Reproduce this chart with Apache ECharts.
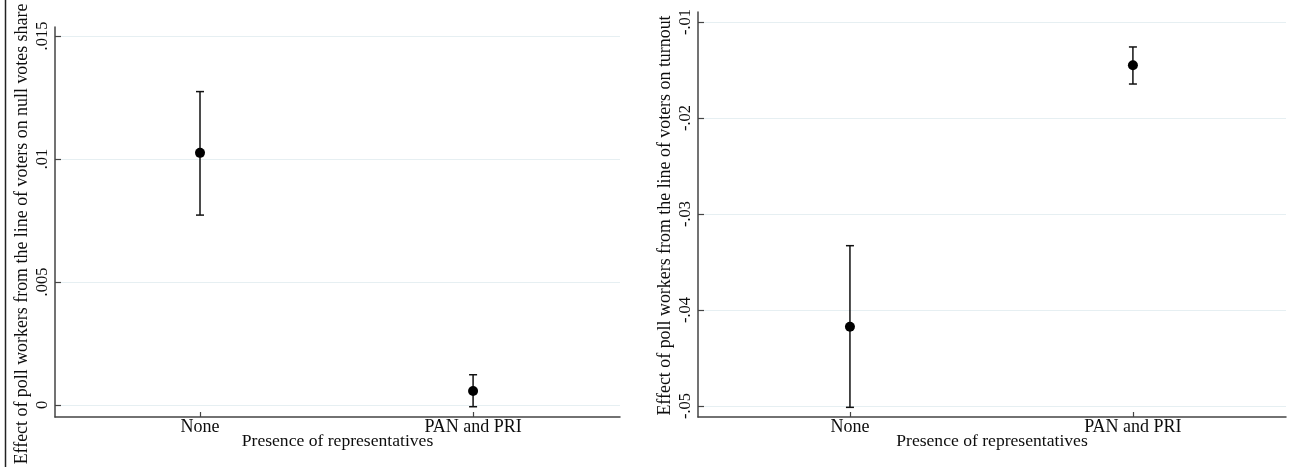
<!DOCTYPE html>
<html>
<head>
<meta charset="utf-8">
<script src="https://cdn.jsdelivr.net/npm/echarts@6/dist/echarts.min.js"></script>
<style>html,body{margin:0;padding:0;background:#fff}#c{width:1291px;height:467px}</style>
</head>
<body>
<div id="c"></div>
<script>
const categories = ["None", "PAN and PRI"];
// Left panel: null votes share
const nullEst = [0.01025, 0.00057];
const nullLo  = [0.00772, -0.00007];
const nullHi  = [0.01274, 0.00123];
const nullTicks = [0, 0.005, 0.01, 0.015];
// Right panel: turnout
const turnEst = [-0.04174, -0.01451];
const turnLo  = [-0.05014, -0.01646];
const turnHi  = [-0.03330, -0.01260];
const turnTicks = [-0.05, -0.04, -0.03, -0.02, -0.01];

const FONT = "'Liberation Serif', 'Times New Roman', serif";
const TXT = '#0d0d0d';
const AXC = '#444444';
const GRIDC = '#e6eff2';
const catX = categories.map((c, i) => i + 1);

function fmt(v) { return String(v).replace(/^(-?)0\./, '$1.'); }

function yAxisCfg(gi, min, max, ticks, name, pad) {
  return {
    type: 'value', gridIndex: gi, min: min, max: max,
    name: name, nameLocation: 'middle', nameGap: 24, nameRotate: 90, nameMoveOverlap: false,
    nameTextStyle: { fontFamily: FONT, fontSize: 17.9, color: TXT, padding: pad },
    axisLine: { show: true, lineStyle: { color: AXC, width: 1.5 } },
    axisTick: { show: true, inside: true, length: 6, customValues: ticks, lineStyle: { color: AXC, width: 1.2 } },
    axisLabel: { show: true, rotate: 90, margin: 4, customValues: ticks, formatter: fmt,
      fontFamily: FONT, fontSize: 16.5, color: TXT },
    splitLine: { show: true, lineStyle: { color: GRIDC, width: 1.2 } }
  };
}
function xAxisCfg(gi, min, max) {
  return {
    type: 'value', gridIndex: gi, min: min, max: max,
    name: 'Presence of representatives', nameLocation: 'middle', nameGap: 15, nameMoveOverlap: false,
    nameTextStyle: { fontFamily: FONT, fontSize: 17.6, color: TXT, verticalAlign: 'top' },
    axisLine: { show: true, onZero: false, lineStyle: { color: AXC, width: 1.5 } },
    axisTick: { show: true, inside: true, length: 5, customValues: catX, lineStyle: { color: AXC, width: 1.2 } },
    axisLabel: { show: true, margin: 1, customValues: catX, formatter: v => categories[Math.round(v) - 1],
      fontFamily: FONT, fontSize: 18, color: TXT },
    splitLine: { show: false }
  };
}
function errSeries(gi, lo, hi) {
  return {
    type: 'custom', xAxisIndex: gi, yAxisIndex: gi,
    data: catX.map((x, i) => [x, lo[i], hi[i]]),
    renderItem: function (params, api) {
      const x = api.value(0);
      const p1 = api.coord([x, api.value(2)]);
      const p2 = api.coord([x, api.value(1)]);
      const w = 4;
      const st = { stroke: '#111', lineWidth: 1.5 };
      return { type: 'group', children: [
        { type: 'line', shape: { x1: p1[0], y1: p1[1], x2: p2[0], y2: p2[1] }, style: st },
        { type: 'line', shape: { x1: p1[0] - w, y1: p1[1], x2: p1[0] + w, y2: p1[1] }, style: st },
        { type: 'line', shape: { x1: p2[0] - w, y1: p2[1], x2: p2[0] + w, y2: p2[1] }, style: st }
      ] };
    },
    z: 3
  };
}
function ptSeries(gi, est) {
  return {
    type: 'scatter', xAxisIndex: gi, yAxisIndex: gi,
    data: catX.map((x, i) => [x, est[i]]),
    symbol: 'circle', symbolSize: 10, itemStyle: { color: '#000', opacity: 1 }, z: 4
  };
}

const chart = echarts.init(document.getElementById('c'), null, { renderer: 'canvas' });
chart.setOption({
  animation: false,
  backgroundColor: '#fff',
  grid: [
    { left: 55, right: 671, top: 27, bottom: 50, containLabel: false, outerBoundsMode: 'none' },
    { left: 698, right: 5, top: 12, bottom: 50, containLabel: false, outerBoundsMode: 'none' }
  ],
  xAxis: [xAxisCfg(0, 0.469, 2.538), xAxisCfg(1, 0.463, 2.541)],
  yAxis: [
    yAxisCfg(0, -0.000488, 0.015366, nullTicks, 'Effect of poll workers from the line of voters on null votes share', [0, 24, 0, 0]),
    yAxisCfg(1, -0.051146, -0.008958, turnTicks, 'Effect of poll workers from the line of voters on turnout', [0, 2, 0, 0])
  ],
  series: [
    errSeries(0, nullLo, nullHi), ptSeries(0, nullEst),
    errSeries(1, turnLo, turnHi), ptSeries(1, turnEst)
  ],
  graphic: [
    { type: 'line', shape: { x1: 5.5, y1: 0, x2: 5.5, y2: 467 }, style: { stroke: '#222', lineWidth: 1.5 } }
  ]
});
</script>
</body>
</html>
